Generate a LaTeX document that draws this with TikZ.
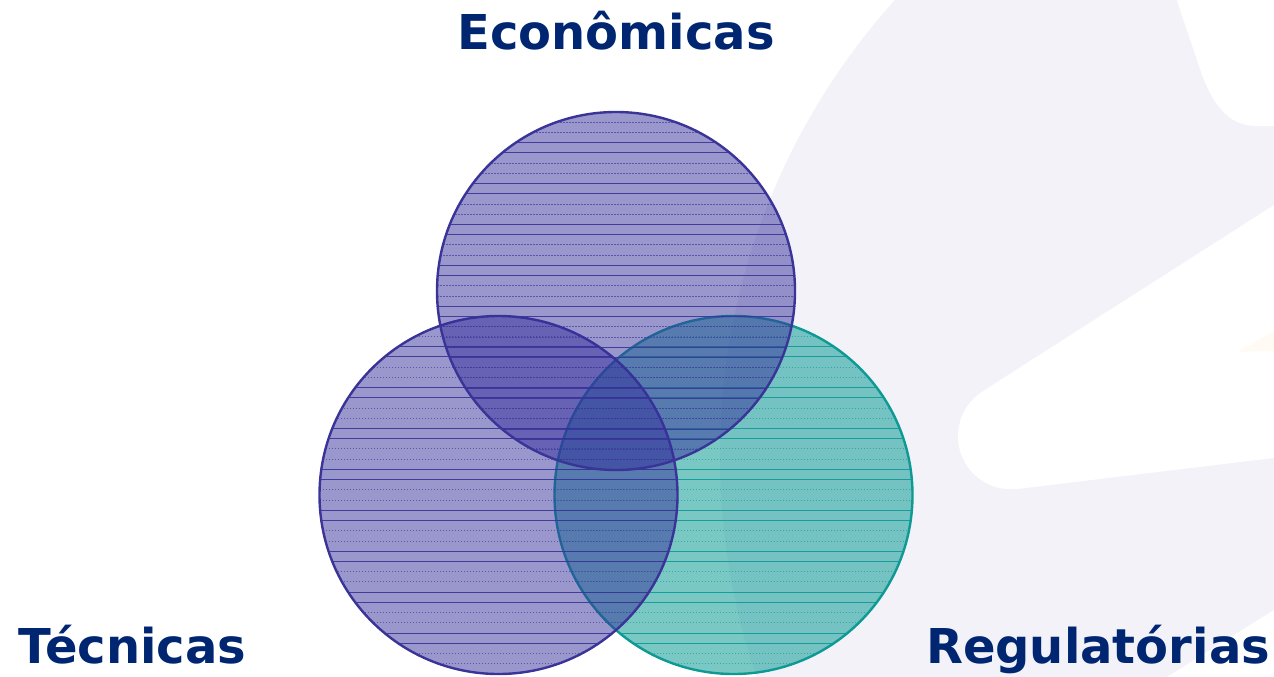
\documentclass[tikz,border=0pt]{standalone}
\usepackage{fontspec}
\setmainfont{DejaVu Sans}
\usetikzlibrary{calc}

\definecolor{navy}{RGB}{0,38,114}
\definecolor{violetfill}{RGB}{53,47,155}
\definecolor{violetline}{RGB}{58,52,152}
\definecolor{tealfill}{RGB}{33,163,157}
\definecolor{tealline}{RGB}{14,154,148}
\definecolor{lavender}{RGB}{242,242,248}
\definecolor{cream}{RGB}{255,251,244}

% horizontal ruling inside a circle: pairs of solid and dashed lines
\newcommand\rulelines[1]{%
  \foreach \k in {1,...,34}{%
    \pgfmathtruncatemacro\h{(\k+1)/2}%
    \ifodd\h
      \draw[#1, line width=1pt, draw opacity=0.65, dash pattern=on 1.5pt off 1.5pt]
        ([yshift={-\k*10.23pt}]path picture bounding box.north west) --
        ([yshift={-\k*10.23pt}]path picture bounding box.north east);
    \else
      \draw[#1, line width=1pt, draw opacity=0.9]
        ([yshift={-\k*10.23pt}]path picture bounding box.north west) --
        ([yshift={-\k*10.23pt}]path picture bounding box.north east);
    \fi
  }%
}

\tikzset{
  labeltext/.style={text=navy, font=\fontsize{48}{58}\selectfont\bfseries,
    anchor=base, inner sep=0pt},
  setdisc/.style={circle, minimum size=358pt, inner sep=0pt, line width=2.4pt},
  violetdisc/.style={setdisc, draw=violetline, fill=violetfill, fill opacity=0.5,
    path picture={\rulelines{violetline}}},
  tealdisc/.style={setdisc, draw=tealline, fill=tealfill, fill opacity=0.6,
    path picture={\rulelines{tealline}}},
}

\begin{document}
\begin{tikzpicture}[x=1pt, y=-1pt]
  \clip (0,0) rectangle (1274,677);

  % pale emblem in the background
  \fill[lavender] (1402,456) circle[radius=682];
  \fill[white] (1175,-5) -- (1201,72) .. controls (1211,100) and (1226,126) .. (1256,126)
    -- (1290,126) -- (1290,-5) -- cycle;
  \fill[white] (1300,188.4) -- (982.4,391.4) -- (1017.4,489) -- (1300,454.8) -- cycle;
  \fill[white] (1010.9,436.2) circle[radius=53];
  \fill[cream] (1238,352) -- (1290,322) -- (1290,350) -- cycle;
  \fill[white] (1300,593.7) -- (1150,687.6) -- (1300,687.6) -- cycle;

  % the three sets
  \node[tealdisc] (reg) at (733.5,495) {};
  \node[violetdisc] (tec) at (498.5,495) {};
  \node[violetdisc] (eco) at (616,291) {};

  % set names
  \node[labeltext] (ecol) at (616,49) {Econômicas};
  \node[labeltext] (tecl) at (132.5,663) {Técnicas};
  \node[labeltext] (regl) at (1098,663) {Regulatórias};
\end{tikzpicture}
\end{document}
